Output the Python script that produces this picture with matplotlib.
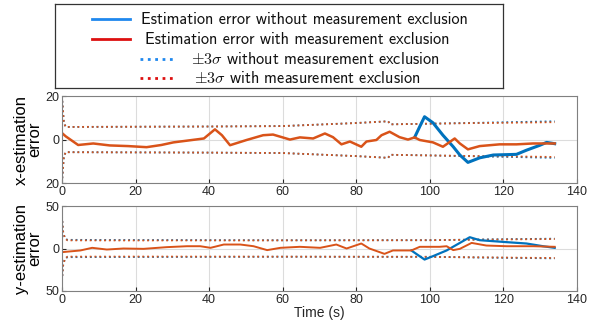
import matplotlib
matplotlib.use("Agg")
import matplotlib.pyplot as plt

# x-estimation error (orange = with exclusion, blue = without)
t_xo = [0, 1, 4.4, 8.5, 13, 18, 23, 27, 30.3, 34, 38.6, 41.6, 43.5, 45.7, 50.2, 54.7, 57.4, 62, 64.7,
        68.3, 71.5, 73.7, 76, 78.3, 81.4, 82.8, 85.5, 86.9, 89.1, 91.8, 94.1, 95.9, 97.3, 100.9, 103.6,
        106.8, 108.2, 110.4, 113.6, 119, 123.6, 128.1, 134]
x_o = [3.0, 1.5, -2.5, -1.8, -2.7, -3.0, -3.5, -2.5, -1.3, -0.5, 0.5, 4.7, 2.0, -2.6, -0.2, 2.0, 2.3, 0.0, 1.0,
       0.5, 2.8, 1.1, -2.2, -0.9, -3.3, -0.9, -0.2, 2.0, 3.6, 1.1, 0.0, 1.0, -0.2, -1.3, -3.3,
       0.5, -1.8, -4.5, -3.0, -2.2, -2.2, -1.8, -1.8]
t_xb = [95.9, 97.3, 98.6, 100.9, 103.6, 106.4, 108.2, 110.4, 113.6, 117.3, 123.6, 126.3, 130, 131.8, 134]
x_b = [1.0, 6.0, 10.5, 7.7, 2.0, -3.3, -7.1, -10.5, -8.4, -7.1, -6.8, -4.9, -2.6, -1.3, -1.9]

t_xs = [0, 0.5, 1, 20, 40, 60, 80, 88.7, 89.3, 100, 113, 125, 134]
xs_o = [20, 8, 5.8, 5.9, 6.0, 6.2, 7.6, 8.4, 7.0, 7.3, 7.6, 7.8, 8.0]
xs_b = [20, 8, 5.8, 5.9, 6.0, 6.2, 7.6, 8.4, 7.0, 7.3, 7.7, 8.1, 8.4]

# y-estimation error
t_yo = [0, 5, 8.2, 12.2, 16.7, 22.2, 28.5, 34, 37.6, 40.4, 44, 48.5, 52.1, 55.8, 59.4, 64.7,
        70.2, 74.6, 77.4, 81.4, 83.6, 87.7, 90, 95, 97.3, 102.7, 104.6, 106.4, 108.2, 111.4, 115.4,
        120.9, 128.1, 134]
y_o = [-4.3, -2.3, 0.8, -1.2, 0.0, -0.4, 1.6, 2.7, 2.7, 0.8, 4.7, 4.7, 2.7, -1.9, 0.8, 2.0,
       0.8, 4.7, 0.0, 5.9, 0.0, -6.3, -2.3, -2.3, 2.0, 2.0, 2.7, -1.9, -0.4, 6.6, 3.5,
       2.7, 2.7, 2.0]
t_yb = [95, 98.6, 100.9, 104.6, 108.2, 110.9, 113.6, 120.9, 126.3, 130.8, 134]
y_b = [-2.3, -13, -9, -2.3, 6.6, 13.3, 9.8, 7.5, 5.9, 2.7, 0.8]

t_ys = [0, 0.3, 0.8, 1.5, 20, 60, 100, 113, 134]
ys_o = [38, 20, 12, 9.6, 9.5, 9.6, 9.8, 10.4, 11.2]
ys_b = [38, 20, 12, 10.2, 10.0, 9.7, 9.8, 10.6, 11.6]

xticks = [0, 20, 40, 60, 80, 100, 120, 140]

legend_labels = ['Estimation error without measurement exclusion',
                 'Estimation error with measurement exclusion',
                 r'$\pm 3\sigma$ without measurement exclusion',
                 r'$\pm 3\sigma$ with measurement exclusion']

BLUE = '#0072BD'
ORANGE = '#D95319'
plt.rcParams['font.family'] = ['Liberation Sans', 'DejaVu Sans']
plt.rcParams['mathtext.fontset'] = 'cm'

fig = plt.figure(figsize=(6, 3.24), dpi=100)
ax1 = fig.add_axes([0.1033, 0.435, 0.858, 0.2685])
ax2 = fig.add_axes([0.1033, 0.102, 0.858, 0.262])

# top panel
ax1.plot(t_xs, xs_b, ':', color=BLUE, lw=1.3)
ax1.plot(t_xs, [-v for v in xs_b], ':', color=BLUE, lw=1.3)
ax1.plot(t_xs, xs_o, ':', color=ORANGE, lw=1.3)
ax1.plot(t_xs, [-v for v in xs_o], ':', color=ORANGE, lw=1.3)
ax1.plot(t_xb, x_b, '-', color=BLUE, lw=2.2)
ax1.plot(t_xo, x_o, '-', color=ORANGE, lw=1.8)
ax1.set_ylim(-20, 20)
ax1.set_yticks([-20, 0, 20])
ax1.set_yticklabels(['20', '0', '20'])
ax1.set_ylabel('x-estimation\nerror', fontsize=12, labelpad=2, linespacing=0.9)

# bottom panel
ax2.plot(t_ys, ys_b, ':', color=BLUE, lw=1.3)
ax2.plot(t_ys, [-v for v in ys_b], ':', color=BLUE, lw=1.3)
ax2.plot(t_ys, ys_o, ':', color=ORANGE, lw=1.3)
ax2.plot(t_ys, [-v for v in ys_o], ':', color=ORANGE, lw=1.3)
ax2.plot(t_yb, y_b, '-', color=BLUE, lw=1.6)
ax2.plot(t_yo, y_o, '-', color=ORANGE, lw=1.4)
ax2.set_ylim(-50, 50)
ax2.set_yticks([-50, 0, 50])
ax2.set_yticklabels(['50', '0', '50'])
ax2.set_ylabel('y-estimation\nerror', fontsize=12, labelpad=2, linespacing=0.9)
ax2.set_xlabel('Time (s)', fontsize=10, labelpad=0, color='#262626')

for ax in (ax1, ax2):
    ax.set_xlim(0, 140)
    ax.set_xticks(xticks)
    ax.grid(True, color='#dcdcdc', lw=0.8)
    ax.set_axisbelow(True)
    ax.tick_params(direction='in', length=3, labelsize=9, colors='#262626', pad=2)
    for s in ax.spines.values():
        s.set_color('#808080')
        s.set_linewidth(0.8)

# legend box drawn in its own axes (pixel units inside the box), MATLAB style centred rows
lg = fig.add_axes([55 / 600, 1 - 88 / 324, 448 / 600, 84 / 324])
lg.set_xlim(0, 448)
lg.set_ylim(84, 0)
lg.set_xticks([])
lg.set_yticks([])
for s in lg.spines.values():
    s.set_color('#333333')
    s.set_linewidth(0.9)
leg_colors = ['#1f88ee', '#dd1010', '#1f88ee', '#dd1010']
leg_styles = ['-', '-', ':', ':']
row_y = [15, 35, 55, 74]
line_x = [(37, 75), (37, 75), (85, 121), (85, 121)]
text_x = [86, 90, 136, 139]
for lab, c, ls, ry, lx, tx in zip(legend_labels, leg_colors, leg_styles, row_y, line_x, text_x):
    lg.plot(lx, [ry, ry], ls=ls, color=c, lw=2)
    lg.text(tx, ry, lab, fontsize=11.7, family='cmss10', va='center', ha='left', color='#111111')

fig.savefig('out.png', dpi=100)
